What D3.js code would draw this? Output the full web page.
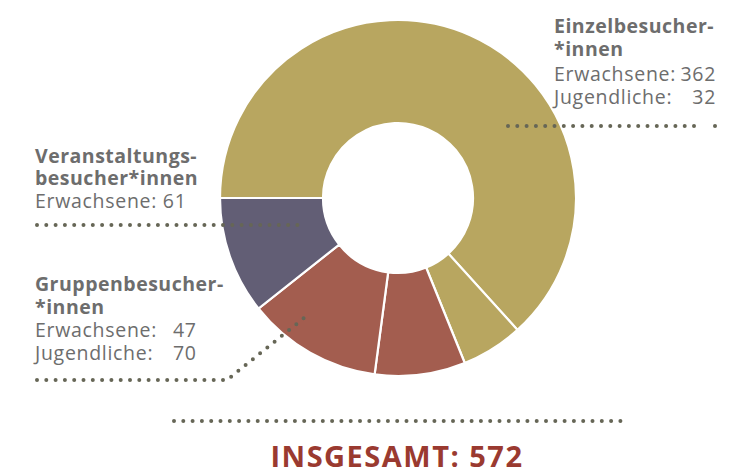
<!DOCTYPE html>
<html>
<head>
<meta charset="utf-8">
<script src="https://cdn.jsdelivr.net/npm/d3@7"></script>
<style>
  body { margin: 0; background: #fff; }
  text { font-family: "Open Sans", "Noto Sans", sans-serif; }
</style>
</head>
<body>
<div id="chart"></div>
<script>
const WIDTH = 745;
const HEIGHT = 473;

// slices clockwise from 9 o'clock
const sliceNames = ['Einzel Erwachsene', 'Einzel Jugendliche', 'Gruppen Erwachsene', 'Gruppen Jugendliche', 'Veranstaltung Erwachsene'];
const sliceValues = [362, 32, 47, 70, 61];
const sliceGroups = ['einzel', 'einzel', 'gruppen', 'gruppen', 'veranstaltung'];
const total = 572;

const COLORS = { einzel: '#b8a660', gruppen: '#a35d4f', veranstaltung: '#625e75' };
const TEXT = '#6d6d6d';
const DOT = '#666656';

var svg = d3.select("#chart").append("svg")
    .attr("width", WIDTH)
    .attr("height", HEIGHT);

const cx = 398, cy = 198;

var pie = d3.pie()
    .sort(null)
    .value(d => d.value)
    .startAngle(-Math.PI / 2)
    .endAngle(Math.PI * 1.5);

var arc = d3.arc()
    .innerRadius(75)
    .outerRadius(178);

const slices = sliceValues.map((v, i) => ({ name: sliceNames[i], value: v, group: sliceGroups[i] }));

svg.append("g")
    .attr("transform", `translate(${cx},${cy})`)
    .selectAll("path")
    .data(pie(slices))
    .enter()
    .append("path")
        .attr("d", arc)
        .attr("fill", d => COLORS[d.data.group])
        .attr("stroke", "#fff")
        .attr("stroke-width", 2.2);

// dotted leader lines
const dotted = (pts) => {
    svg.append("path")
        .attr("d", d3.line()(pts))
        .attr("fill", "none")
        .attr("stroke", DOT)
        .attr("stroke-width", 4)
        .attr("stroke-linecap", "round")
        .attr("stroke-linejoin", "round")
        .attr("stroke-dasharray", "0 9.3");
};

dotted([[508, 126], [703, 126]]);
svg.append("circle").attr("cx", 715).attr("cy", 126).attr("r", 2).attr("fill", DOT);
dotted([[37, 225], [298, 225]]);
dotted([[37, 380], [227, 380], [304, 318]]);
dotted([[174, 421], [627, 421]]);

// labels
const label = (x, y, str, bold, anchor) => {
    svg.append("text")
        .attr("x", x)
        .attr("y", y)
        .attr("fill", TEXT)
        .attr("font-size", "19.5px")
        .attr("font-weight", bold ? 700 : 400)
        .attr("letter-spacing", bold ? "0.5px" : "0.7px")
        .attr("text-anchor", anchor || "start")
        .text(str);
};

// Einzelbesucher
label(554, 33, "Einzelbesucher-", true);
label(554, 56, "*innen", true);
label(554, 81, "Erwachsene:", false);
label(716, 81, sliceValues[0], false, "end");
label(554, 104, "Jugendliche:", false);
label(716, 104, sliceValues[1], false, "end");

// Veranstaltung
label(35, 163, "Veranstaltungs-", true);
label(35, 185, "besucher*innen", true);
label(35, 208, "Erwachsene: " + sliceValues[4], false);

// Gruppen
label(35, 291, "Gruppenbesucher-", true);
label(35, 314, "*innen", true);
label(35, 337, "Erwachsene:", false);
label(173, 337, sliceValues[2], false);
label(35, 360, "Jugendliche:", false);
label(173, 360, sliceValues[3], false);

svg.append("text")
    .attr("x", 397)
    .attr("y", 467)
    .attr("text-anchor", "middle")
    .attr("fill", "#9a3a30")
    .attr("font-size", "29px")
    .attr("font-weight", 700)
    .attr("letter-spacing", "1.5px")
    .text("INSGESAMT: " + total);
</script>
</body>
</html>
